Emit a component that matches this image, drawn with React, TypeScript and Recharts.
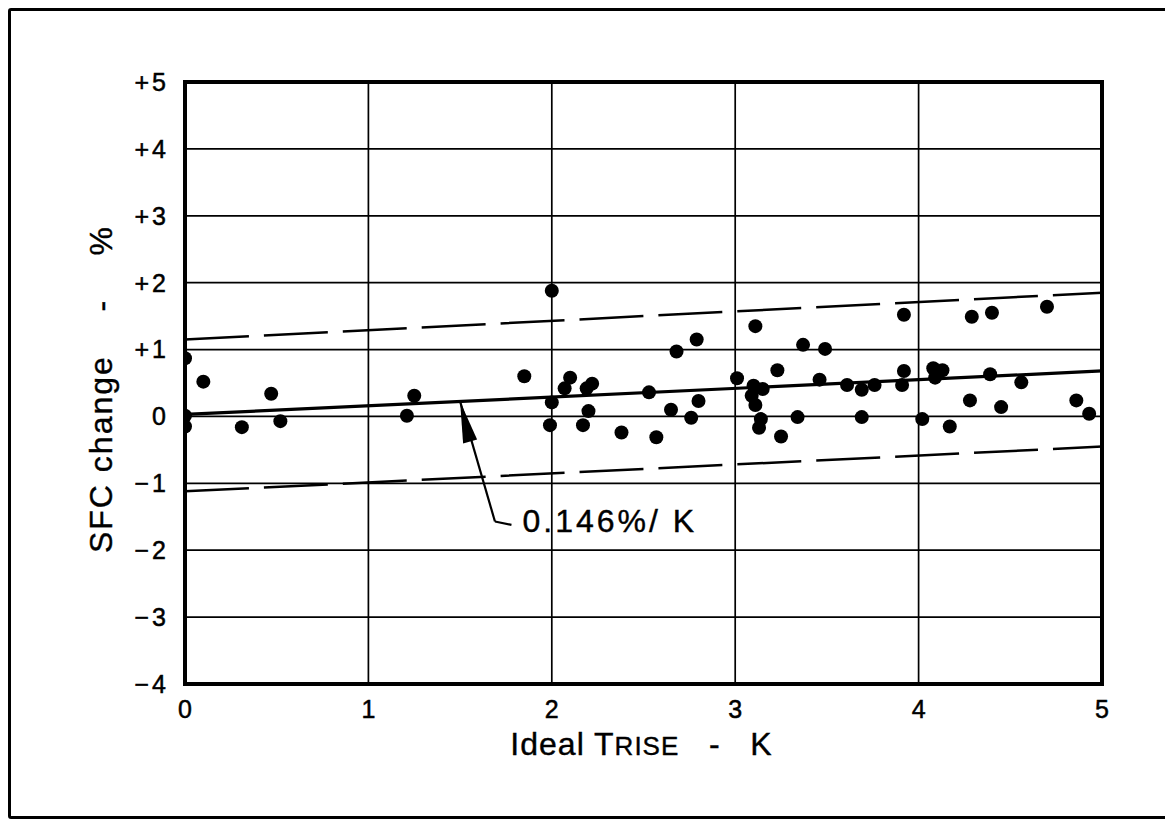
import React from "react";
import {
  ScatterChart, Scatter, XAxis, YAxis, CartesianGrid, ReferenceLine, ReferenceDot, ReferenceArea, Label,
} from "recharts";

const FONT = "'Liberation Sans', Arial, Helvetica, sans-serif";

// Ideal TRISE (K) and SFC change (%), point by point
const triseK = [
  0, 0.1, 0.47, 0, 0, 0.31, 0.52, 1.25, 1.21, 1.85,
  2.0, 2.0, 1.99, 2.1, 2.07, 2.22, 2.19, 2.2, 2.17, 2.38,
  2.57, 2.53, 2.65, 2.68, 2.79, 2.8, 2.76, 3.01, 3.11, 3.1,
  3.15, 3.09, 3.11, 3.14, 3.13, 3.25, 3.23, 3.34, 3.37, 3.49,
  3.46, 3.61, 3.69, 3.76, 3.69, 3.92, 3.92, 3.91, 4.08, 4.13,
  4.09, 4.29, 4.4, 4.7, 4.39, 4.56, 4.28, 4.45, 4.02, 4.17,
  4.86, 4.93,
];
const sfcPct = [
  0.87, 0.52, 0.34, 0.01, -0.15, -0.16, -0.07, 0.31, 0.01, 0.6,
  1.88, 0.21, -0.13, 0.58, 0.42, 0.49, 0.42, 0.08, -0.13, -0.24,
  -0.31, 0.36, 0.1, 0.97, 1.15, 0.23, -0.02, 0.57, 1.35, 0.46,
  0.41, 0.31, 0.17, -0.04, -0.17, -0.3, 0.69, -0.01, 1.07, 1.01,
  0.55, 0.47, 0.4, 0.47, -0.01, 1.52, 0.68, 0.47, 0.72, 0.69,
  0.58, 1.49, 1.55, 1.64, 0.63, 0.51, 0.24, 0.14, -0.04, -0.15,
  0.24, 0.04,
];

const xTicks = [0, 1, 2, 3, 4, 5];
const yTicks = [-4, -3, -2, -1, 0, 1, 2, 3, 4, 5];
const yTickLabels = ["\u22124", "\u22123", "\u22122", "\u22121", "0", "+1", "+2", "+3", "+4", "+5"];

// fitted trend and scatter band, end points at TRISE = 0 and 5
const fitX = [0, 5];
const fitY = [0.03, 0.68];
const upperY = [1.15, 1.85];
const lowerY = [-1.12, -0.45];

// leader from the "0.146%/ K" note to the trend line
const leaderX = [1.5, 1.69, 1.78];
const leaderY = [0.225, -1.57, -1.62];
const noteAt = { x: 1.84, y: -1.56 };

const points = triseK.map((x, i) => ({ x, y: sfcPct[i] }));

const Dot = (p: any) => <circle cx={p.cx} cy={p.cy} r={7} fill="#000" />;

const ArrowHead = (p: any) => {
  // narrow head pointing up along the leader
  const { cx, cy } = p;
  return <path d={`M${cx},${cy} L${cx + 3},${cy + 42} L${cx + 17},${cy + 38} Z`} fill="#000" />;
};

const Note = (p: any) => (
  <text x={p.cx} y={p.cy} dominantBaseline="central" fontFamily={FONT} fontSize={32} letterSpacing={3}
    fill="#000" stroke="#000" strokeWidth={0.4}>
    0.146%/ K
  </text>
);

const YTitle = (props: any) => {
  const { x, y, height } = props.viewBox;
  const cx = x - 14;
  const cy = y + height / 2 + 6;
  return (
    <text transform={`translate(${cx},${cy}) rotate(-90)`} textAnchor="middle" dominantBaseline="central"
      fontFamily={FONT} fontSize={32} letterSpacing={2} fill="#000" stroke="#000" strokeWidth={0.4}
      style={{ whiteSpace: "pre" }}>
      {"SFC change    -    %"}
    </text>
  );
};

const XTitle = (props: any) => {
  const { x, y, width } = props.viewBox;
  return (
    <text x={x + width / 2 - 2} y={y + 71} textAnchor="middle" fontFamily={FONT} fontSize={32}
      letterSpacing={1} fill="#000" stroke="#000" strokeWidth={0.4} style={{ whiteSpace: "pre" }}>
      {"Ideal T"}
      <tspan fontSize={26}>RISE</tspan>
      {"   -   K"}
    </text>
  );
};

const tickStyle = { fontSize: 25, fill: "#000", fontFamily: FONT, stroke: "#000", strokeWidth: 0.5 };

export default function App() {
  return (
    <div style={{ width: 1155, height: 805, border: "3px solid #000", borderRadius: 3, background: "#fff" }}>
      <ScatterChart width={1155} height={805} margin={{ top: 71, right: 64, bottom: 92, left: 104 }}>
        <CartesianGrid stroke="#000" strokeWidth={1.7} />
        <XAxis type="number" dataKey="x" domain={[0, 5]} ticks={xTicks} interval={0} allowDataOverflow
          tickLine={false} axisLine={false} tickSize={6} tickMargin={10} height={40}
          tick={tickStyle}>
          <Label content={XTitle} />
        </XAxis>
        <YAxis type="number" dataKey="y" domain={[-4, 5]} ticks={yTicks} interval={0} allowDataOverflow
          tickLine={false} axisLine={false} tickSize={6} tickMargin={10} width={70}
          tickFormatter={(v: number) => yTickLabels[yTicks.indexOf(v)]}
          tick={{ ...tickStyle, letterSpacing: 3 }}>
          <Label content={YTitle} />
        </YAxis>
        <ReferenceArea x1={0} x2={5} y1={-4} y2={5} fill="none" fillOpacity={0} stroke="#000" strokeWidth={4} ifOverflow="visible" />
        <ReferenceLine segment={[{ x: fitX[0], y: upperY[0] }, { x: fitX[1], y: upperY[1] }]}
          stroke="#000" strokeWidth={2.5} strokeDasharray="64 15" ifOverflow="visible" />
        <ReferenceLine segment={[{ x: fitX[0], y: lowerY[0] }, { x: fitX[1], y: lowerY[1] }]}
          stroke="#000" strokeWidth={2.5} strokeDasharray="64 15" ifOverflow="visible" />
        <ReferenceLine segment={[{ x: fitX[0], y: fitY[0] }, { x: fitX[1], y: fitY[1] }]}
          stroke="#000" strokeWidth={3.2} ifOverflow="visible" />
        <ReferenceLine segment={[{ x: leaderX[0], y: leaderY[0] }, { x: leaderX[1], y: leaderY[1] }]}
          stroke="#000" strokeWidth={2.2} ifOverflow="visible" />
        <ReferenceLine segment={[{ x: leaderX[1], y: leaderY[1] }, { x: leaderX[2], y: leaderY[2] }]}
          stroke="#000" strokeWidth={2.2} ifOverflow="visible" />
        <ReferenceDot x={leaderX[0]} y={leaderY[0]} shape={ArrowHead} ifOverflow="visible" />
        <ReferenceDot x={noteAt.x} y={noteAt.y} shape={Note} ifOverflow="visible" />
        <Scatter data={points} shape={Dot} isAnimationActive={false} />
      </ScatterChart>
    </div>
  );
}
